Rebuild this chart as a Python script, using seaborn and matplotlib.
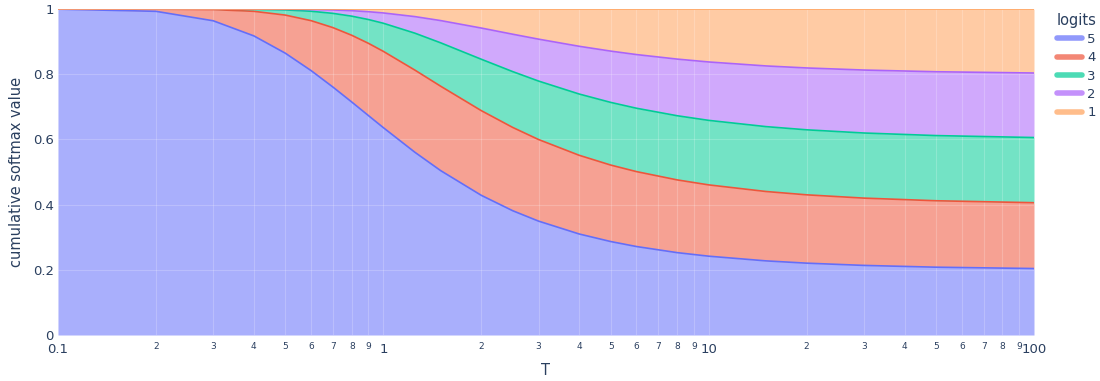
import numpy as np
import pandas as pd
import matplotlib.pyplot as plt
import seaborn as sns
from matplotlib.ticker import FixedLocator, NullFormatter

# --- data: cumulative softmax value per logit ---
T = [0.1, 0.2, 0.3, 0.4, 0.5, 0.6, 0.7, 0.8, 0.9, 1, 1.25, 1.5, 2, 2.5, 3,
     4, 5, 6, 8, 10, 15, 20, 30, 50, 100]
cum_5 = [1.0, 0.9933, 0.9643, 0.9179, 0.8647, 0.8113, 0.7609, 0.7149, 0.6734,
         0.6364, 0.5609, 0.5046, 0.4287, 0.3813, 0.3495, 0.3100, 0.2868,
         0.2715, 0.2528, 0.2419, 0.2275, 0.2205, 0.2136, 0.2081, 0.2040]
cum_4 = [1.0, 1.0, 0.9987, 0.9933, 0.9817, 0.9646, 0.9433, 0.9197, 0.8951,
         0.8705, 0.8130, 0.7636, 0.6886, 0.6369, 0.5999, 0.5515, 0.5215,
         0.5014, 0.4760, 0.4607, 0.4404, 0.4302, 0.4201, 0.4120, 0.4060]
cum_3 = [1.0, 1.0, 1.0, 0.9995, 0.9976, 0.9935, 0.9870, 0.9784, 0.9681,
         0.9567, 0.9263, 0.8967, 0.8463, 0.8082, 0.7793, 0.7395, 0.7138,
         0.6959, 0.6729, 0.6587, 0.6395, 0.6297, 0.6199, 0.6120, 0.6060]
cum_2 = [1.0, 1.0, 1.0, 1.0, 0.9997, 0.9990, 0.9975, 0.9952, 0.9921,
         0.9883, 0.9771, 0.9649, 0.9420, 0.9230, 0.9079, 0.8860, 0.8712,
         0.8606, 0.8467, 0.8379, 0.8257, 0.8195, 0.8131, 0.8079, 0.8040]
cum_1 = [1.0] * len(T)

logits = ['5', '4', '3', '2', '1']
colors = ['#636EFA', '#EF553B', '#00CC96', '#AB63FA', '#FFA15A']

series = [cum_5, cum_4, cum_3, cum_2, cum_1]
df = pd.concat([pd.DataFrame({'T': T, 'value': s, 'logits': lg})
                for lg, s in zip(logits, series)], ignore_index=True)

# --- plot ---
sns.set_style('white')
plt.rcParams['font.family'] = ['DejaVu Sans']

fig = plt.figure(figsize=(11, 3.81), dpi=100)
ax = fig.add_axes([0.0527, 0.1207, 0.8873, 0.8553])

# stacked fills (each band fills down to the previous curve)
lower = np.zeros(len(T))
for lg, s, c in zip(logits, series, colors):
    ax.fill_between(T, lower, s, color=c, alpha=0.55, linewidth=0, zorder=1)
    lower = np.array(s)

sns.lineplot(data=df, x='T', y='value', hue='logits', palette=colors,
             hue_order=logits, linewidth=1.2, ax=ax, zorder=3)

ax.set_xscale('log')
ax.set_xlim(0.1, 100)
ax.set_ylim(0, 1)

# faint grid lines over the fill, like plotly
minor = [m * 10.0 ** e for e in (-1, 0, 1) for m in range(2, 10)]
for v in [0.2, 0.4, 0.6, 0.8]:
    ax.axhline(v, color='white', alpha=0.2, lw=0.8, zorder=2)
for v in [1, 10] + minor:
    ax.axvline(v, color='white', alpha=0.2, lw=0.8, zorder=2)

ax.set_yticks([0, 0.2, 0.4, 0.6, 0.8, 1])
ax.set_yticklabels(['0', '0.2', '0.4', '0.6', '0.8', '1'])
ax.tick_params(axis='y', length=0, labelsize=9.5, colors='#2a3f5f', pad=3)

ax.xaxis.set_major_locator(FixedLocator([0.1, 1, 10, 100]))
ax.set_xticklabels(['0.1', '1', '10', '100'])
ax.xaxis.set_minor_locator(FixedLocator(minor))
ax.xaxis.set_minor_formatter(NullFormatter())
ax.tick_params(axis='x', which='both', length=0, labelsize=9.5,
               colors='#2a3f5f', pad=6)
for v in minor:
    ax.text(v, -0.02, str(int(round(v / 10 ** np.floor(np.log10(v) + 1e-9)))),
            transform=ax.get_xaxis_transform(), ha='center', va='top',
            fontsize=6.5, color='#2a3f5f')

for sp in ax.spines.values():
    sp.set_visible(False)

ax.set_xlabel('T', fontsize=10.5, color='#2a3f5f', labelpad=5)
ax.set_ylabel('cumulative softmax value', fontsize=10.5, color='#2a3f5f',
              labelpad=6)

leg = ax.legend(title='logits', loc='upper left', bbox_to_anchor=(1.018, 1.005),
                borderaxespad=0, frameon=False, fontsize=9.5,
                title_fontsize=10.5, handlelength=1.9, handletextpad=0.4,
                labelspacing=0.4, alignment='left')
for h in leg.get_lines():
    h.set_linewidth(4)
    h.set_alpha(0.7)
for t in leg.get_texts():
    t.set_color('#2a3f5f')
leg.get_title().set_color('#2a3f5f')

fig.savefig('out.png', dpi=100)
